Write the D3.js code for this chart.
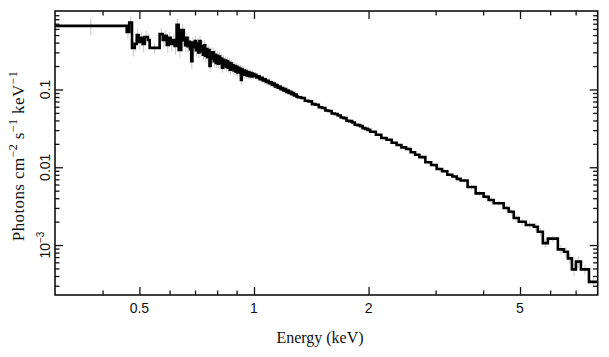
<!DOCTYPE html>
<html><head><meta charset="utf-8">
<script src="https://cdn.jsdelivr.net/npm/d3@7"></script>
<style>body{margin:0;background:#fff}</style>
</head><body><svg id="c" width="609" height="357"></svg>
<script>
// ---- data ----
const binEdges = [
  0.300, 0.463, 0.470, 0.478, 0.486, 0.492, 0.498, 0.504, 0.510, 0.516, 0.526, 0.532, 0.565, 0.576, 0.583, 0.590, 0.597, 0.604, 0.612, 0.619, 0.626, 0.634, 0.644, 0.654,
  0.659, 0.664, 0.669, 0.674, 0.679, 0.684, 0.689, 0.694, 0.699, 0.704, 0.709, 0.714, 0.719, 0.724, 0.729, 0.734, 0.739, 0.744, 0.749, 0.754,
  0.759, 0.764, 0.769, 0.774, 0.779, 0.784, 0.789, 0.794, 0.799, 0.804, 0.809, 0.814, 0.819, 0.824, 0.829, 0.834, 0.839, 0.844, 0.849, 0.854,
  0.859, 0.864, 0.869, 0.874, 0.879, 0.884, 0.889, 0.894, 0.899, 0.904, 0.909, 0.914, 0.919, 0.924, 0.929, 0.934, 0.939, 0.944, 0.949, 0.954,
  0.959, 0.964, 0.969, 0.974, 0.979, 0.984, 0.989, 0.994, 0.999, 1.004,
  1.014, 1.024, 1.034, 1.044, 1.054, 1.064, 1.074, 1.084, 1.094, 1.104, 1.114, 1.124, 1.134, 1.144, 1.154,
  1.164, 1.174, 1.184, 1.194, 1.204, 1.214, 1.224, 1.234, 1.244, 1.254, 1.264, 1.274, 1.284, 1.294, 1.304,
  1.33, 1.36, 1.39, 1.42, 1.45, 1.48, 1.51, 1.54, 1.57, 1.60, 1.63, 1.66, 1.69, 1.72, 1.75, 1.78, 1.81, 1.84, 1.87, 1.90, 1.93, 1.96, 1.99, 2.02,
  2.09, 2.16, 2.23, 2.30, 2.37, 2.44, 2.51, 2.58, 2.65, 2.72,
  2.82, 2.92, 3.02, 3.12, 3.22, 3.32, 3.41, 3.49,
  3.641, 3.823, 4.012, 4.136, 4.265, 4.530, 4.670, 4.814, 4.963, 5.178, 5.435, 5.568, 5.740, 5.917, 6.287, 6.521, 6.680, 6.844, 7.012, 7.228, 7.588, 8.0
];
const flux = [
  0.656, 0.549, 0.727, 0.342, 0.385, 0.502, 0.408, 0.460, 0.385, 0.473, 0.433, 0.342, 0.517, 0.433, 0.488, 0.374, 0.460, 0.385, 0.433, 0.363, 0.676, 0.322, 0.582,
  0.43, 0.37, 0.46, 0.36, 0.41, 0.33, 0.23, 0.40, 0.35, 0.42, 0.32, 0.39, 0.30, 0.42, 0.31, 0.36, 0.28, 0.37, 0.27, 0.33,
  0.26, 0.32, 0.20, 0.30, 0.25, 0.30, 0.23, 0.28, 0.22, 0.27, 0.215, 0.265, 0.22, 0.25, 0.19, 0.24, 0.205, 0.235, 0.195, 0.23,
  0.19, 0.22, 0.18, 0.215, 0.185, 0.205, 0.175, 0.20, 0.17, 0.195, 0.165, 0.19, 0.165, 0.185, 0.133, 0.18, 0.16, 0.175, 0.155, 0.172,
  0.152, 0.168, 0.150, 0.165, 0.148, 0.162, 0.147, 0.160, 0.148, 0.155,
  0.154, 0.143, 0.148, 0.136, 0.141, 0.131, 0.135, 0.125, 0.129, 0.120, 0.124, 0.115, 0.119, 0.109, 0.114,
  0.105, 0.109, 0.101, 0.104, 0.097, 0.101, 0.093, 0.097, 0.090, 0.093, 0.087, 0.090, 0.084, 0.086, 0.081,
  0.0795, 0.0778, 0.0716, 0.0702, 0.0648, 0.0636, 0.0592, 0.0578, 0.0536, 0.0528, 0.0490, 0.0484, 0.0462, 0.0436, 0.0428, 0.0396, 0.0392, 0.0376, 0.0352, 0.0348, 0.0338, 0.0318, 0.0311, 0.0302,
  0.0286, 0.0262, 0.0238, 0.0226, 0.0207, 0.0193, 0.0180, 0.0172, 0.0156, 0.0145,
  0.0135, 0.0116, 0.0107, 0.0095, 0.0089, 0.0080, 0.0076, 0.0071,
  0.00675, 0.00557, 0.00462, 0.00418, 0.00379, 0.00344, 0.00299, 0.00268, 0.00223, 0.00199, 0.00181, 0.00172, 0.00148, 0.00106, 0.00121, 0.00088, 0.00082, 0.000675, 0.000487, 0.000613, 0.000487, 0.000336
];
const relErr = [
  0.25, 0.20, 0.20, 0.22, 0.20, 0.22, 0.20, 0.20, 0.22, 0.20, 0.20, 0.15, 0.20, 0.20, 0.20, 0.22, 0.20, 0.20, 0.20, 0.22, 0.20, 0.22, 0.20,
  0.18, 0.18, 0.18, 0.18, 0.17, 0.18, 0.20, 0.17, 0.17, 0.17, 0.17, 0.17, 0.16, 0.17, 0.16, 0.16, 0.16, 0.16, 0.16, 0.16,
  0.15, 0.16, 0.17, 0.15, 0.15, 0.15, 0.15, 0.15, 0.15, 0.14, 0.14, 0.14, 0.14, 0.14, 0.14, 0.14, 0.13, 0.13, 0.13, 0.13,
  0.13, 0.13, 0.13, 0.12, 0.12, 0.12, 0.12, 0.12, 0.12, 0.12, 0.12, 0.12, 0.11, 0.11, 0.14, 0.11, 0.11, 0.11, 0.10, 0.10,
  0.10, 0.10, 0.10, 0.10, 0.09, 0.09, 0.09, 0.09, 0.09, 0.09,
  0.08, 0.08, 0.08, 0.08, 0.08, 0.07, 0.07, 0.07, 0.07, 0.07, 0.07, 0.07, 0.07, 0.07, 0.07,
  0.06, 0.06, 0.06, 0.06, 0.06, 0.06, 0.06, 0.06, 0.06, 0.06, 0.06, 0.06, 0.06, 0.06, 0.06,
  0.05, 0.05, 0.05, 0.05, 0.05, 0.05, 0.05, 0.05, 0.05, 0.05, 0.05, 0.05, 0.05, 0.05, 0.05, 0.05, 0.05, 0.05, 0.05, 0.05, 0.05, 0.05, 0.05, 0.05,
  0.05, 0.05, 0.05, 0.05, 0.05, 0.05, 0.05, 0.05, 0.05, 0.05,
  0.06, 0.06, 0.06, 0.06, 0.06, 0.06, 0.06, 0.06,
  0.07, 0.07, 0.08, 0.09, 0.09, 0.08, 0.10, 0.10, 0.10, 0.10, 0.10, 0.12, 0.12, 0.13, 0.10, 0.14, 0.15, 0.16, 0.18, 0.17, 0.15, 0.17
];
const xTickValues = [0.5, 1, 2, 5];
const xTickLabels = ["0.5", "1", "2", "5"];
const xMinorValues = [0.4, 0.6, 0.7, 0.8, 0.9, 3, 4, 6, 7];
const yTickValues = [0.1, 0.01, 0.001];
const yTickLabels = [["0.1", ""], ["0.01", ""], ["10", "\u22123"]];
const xDomain = [0.3, 8];
const yDomain = [2.28e-4, 1.02];
const xTitle = "Energy (keV)";
const yTitleParts = [["Photons cm", ""], ["\u22122", "sup"], [" s", ""], ["\u22121", "sup"], [" keV", ""], ["\u22121", "sup"]];

// ---- layout ----
const L = 55, R = 597.7, T = 11, B = 295;
const svg = d3.select("#c");
const x = d3.scaleLog().domain(xDomain).range([L, R]);
const y = d3.scaleLog().domain(yDomain).range([B, T]);

const yMinor = [];
for (let k = -4; k <= 0; k++) for (let m = 2; m <= 9; m++) {
  const v = m * Math.pow(10, k);
  if (v > yDomain[0] && v < yDomain[1]) yMinor.push(v);
}

svg.append("defs").append("clipPath").attr("id", "pc")
  .append("rect").attr("x", L).attr("y", T).attr("width", R - L).attr("height", B - T);

// error bars
const bins = flux.map((f, i) => ({lo: binEdges[i], hi: binEdges[i + 1], f, e: relErr[i]}));
const gE = svg.append("g").attr("clip-path", "url(#pc)");
gE.selectAll("line").data(bins).join("line")
  .attr("x1", d => x(Math.sqrt(d.lo * d.hi))).attr("x2", d => x(Math.sqrt(d.lo * d.hi)))
  .attr("y1", d => y(d.f * (1 + d.e))).attr("y2", d => y(d.f * (1 - d.e)))
  .attr("stroke", "#c8c8c8").attr("stroke-width", 1);

// step histogram
const pts = [];
bins.forEach(d => { pts.push([d.lo, d.f]); pts.push([d.hi, d.f]); });
svg.append("path").attr("clip-path", "url(#pc)")
  .attr("d", d3.line().x(d => x(d[0])).y(d => y(d[1]))(pts))
  .attr("fill", "none").attr("stroke", "#000").attr("stroke-width", 2.6)
  .attr("stroke-linejoin", "miter");

// axes (ticks inward on all sides)
function styleAxis(g) {
  g.select(".domain").remove();
  g.selectAll("line").attr("stroke", "#111").attr("stroke-width", 1.3);
  g.selectAll("text").remove();
}
const maj = 8, mnr = 4.5;
svg.append("g").attr("transform", `translate(0,${B})`).call(d3.axisBottom(x).tickValues(xTickValues).tickSize(-maj)).call(styleAxis);
svg.append("g").attr("transform", `translate(0,${B})`).call(d3.axisBottom(x).tickValues(xMinorValues).tickSize(-mnr)).call(styleAxis);
svg.append("g").attr("transform", `translate(0,${T})`).call(d3.axisTop(x).tickValues(xTickValues).tickSize(-maj)).call(styleAxis);
svg.append("g").attr("transform", `translate(0,${T})`).call(d3.axisTop(x).tickValues(xMinorValues).tickSize(-mnr)).call(styleAxis);
svg.append("g").attr("transform", `translate(${L},0)`).call(d3.axisLeft(y).tickValues(yTickValues).tickSize(-maj)).call(styleAxis);
svg.append("g").attr("transform", `translate(${L},0)`).call(d3.axisLeft(y).tickValues(yMinor).tickSize(-mnr)).call(styleAxis);
svg.append("g").attr("transform", `translate(${R},0)`).call(d3.axisRight(y).tickValues(yTickValues).tickSize(-maj)).call(styleAxis);
svg.append("g").attr("transform", `translate(${R},0)`).call(d3.axisRight(y).tickValues(yMinor).tickSize(-mnr)).call(styleAxis);

// frame
svg.append("rect").attr("x", L).attr("y", T).attr("width", R - L).attr("height", B - T)
  .attr("fill", "none").attr("stroke", "#111").attr("stroke-width", 1.6);

// tick labels
const sans = "'Liberation Sans', Arial, Helvetica, sans-serif";
const serif = "'Liberation Serif', 'Times New Roman', serif";
svg.append("g").selectAll("text").data(xTickValues).join("text")
  .attr("x", d => x(d)).attr("y", 313).attr("text-anchor", "middle")
  .attr("font-family", sans).attr("font-size", 14).attr("fill", "#111")
  .text((d, i) => xTickLabels[i]);

yTickValues.forEach((v, i) => {
  const t = svg.append("text").attr("transform", `translate(50,${y(v)}) rotate(-90)`)
    .attr("text-anchor", "middle").attr("font-family", sans).attr("font-size", 14).attr("fill", "#111");
  t.append("tspan").text(yTickLabels[i][0]);
  if (yTickLabels[i][1]) t.append("tspan").attr("dy", -6).attr("font-size", 10).text(yTickLabels[i][1]);
});

// titles
svg.append("text").attr("x", 320).attr("y", 343).attr("text-anchor", "middle")
  .attr("font-family", serif).attr("font-size", 16).attr("fill", "#111").text(xTitle);

const yt = svg.append("text").attr("transform", "translate(24,156) rotate(-90)")
  .attr("text-anchor", "middle").attr("font-family", serif).attr("font-size", 17)
  .attr("letter-spacing", 0.4).attr("fill", "#111");
let sup = false;
yTitleParts.forEach(([s, k]) => {
  const ts = yt.append("tspan").text(s);
  if (k === "sup") { ts.attr("font-size", 12).attr("dy", sup ? 0 : -7); sup = true; }
  else { if (sup) ts.attr("dy", 7); sup = false; }
});
</script></body></html>
